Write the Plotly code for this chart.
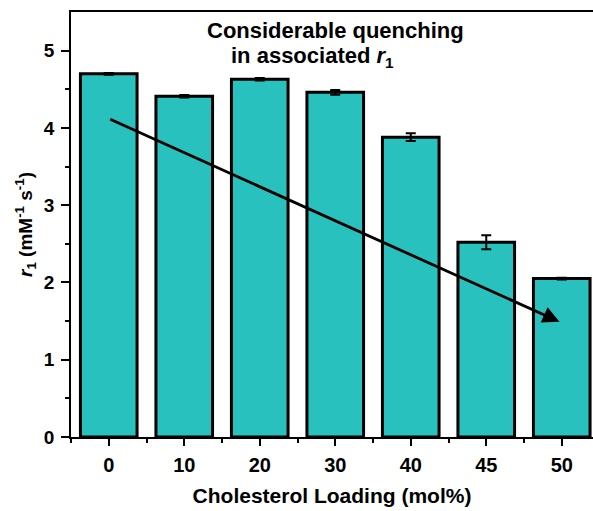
import plotly.graph_objects as go

categories = ["0", "10", "20", "30", "40", "45", "50"]
r1_values = [4.70, 4.41, 4.63, 4.46, 3.88, 2.52, 2.05]
r1_errors = [0.012, 0.015, 0.015, 0.03, 0.05, 0.09, 0.012]
y_ticks = [0, 1, 2, 3, 4, 5]

xpos = list(range(len(categories)))

fig = go.Figure()
fig.add_trace(go.Bar(
    x=xpos, y=r1_values, width=0.75,
    marker=dict(color="#28C1BE", line=dict(color="black", width=3)),
    error_y=dict(type="data", array=r1_errors, color="black", thickness=2, width=5),
))

W, H = 593, 511
L, R, T, B = 71, 0, 12, 74
def px2x(p):
    return (p - 108.3) / 75.57
def py2y(p):
    return (436.7 - p) / 77.2

fig.add_annotation(x=5.97, y=1.49, ax=0, ay=4.12, xref="x", yref="y", axref="x", ayref="y",
                   showarrow=True, arrowhead=2, arrowsize=1.2, arrowwidth=2.8, arrowcolor="black",
                   text="", standoff=0, startstandoff=0)

font_ann = dict(family="Liberation Sans, Arial", size=22, color="black")
fig.add_annotation(x=px2x(205), y=py2y(30.5), xref="x", yref="y", xanchor="left", yanchor="middle",
                   text="<b>Considerable quenching</b>", showarrow=False, font=font_ann)
fig.add_annotation(x=px2x(229), y=py2y(57), xref="x", yref="y", xanchor="left", yanchor="middle",
                   text="<b>in associated <i>r</i><sub>1</sub></b>", showarrow=False, font=font_ann)

fig.update_layout(
    width=W, height=H, margin=dict(l=L, r=R, t=T, b=B),
    plot_bgcolor="white", paper_bgcolor="white", showlegend=False,
    font=dict(family="Liberation Sans, Arial", color="black"),
)
fig.update_xaxes(
    range=[-0.5, px2x(593)], tickmode="array", tickvals=xpos, ticktext=[f"<b>{c}</b>" for c in categories],
    tickfont=dict(size=20), ticks="outside", ticklen=7, tickwidth=1.5, tickcolor="black",
    ticklabelstandoff=2,
    showline=True, linecolor="black", linewidth=1.5, mirror=True, showgrid=False, zeroline=False,
    minor=dict(tickmode="array", tickvals=[-0.5, 0.5, 1.5, 2.5, 3.5, 4.5, 5.5], ticks="outside", ticklen=4, tickwidth=1.5, tickcolor="black"),
    title=dict(text="<b>Cholesterol Loading (mol%)</b>", font=dict(size=21), standoff=14),
)
fig.update_yaxes(
    range=[0, 5.5], tickmode="array", tickvals=y_ticks, ticktext=[f"<b>{v}</b>" for v in y_ticks],
    tickfont=dict(size=19), ticks="outside", ticklen=8, tickwidth=1.5, tickcolor="black",
    ticklabelstandoff=3,
    showline=True, linecolor="black", linewidth=1.5, showgrid=False, zeroline=False,
    minor=dict(tickmode="array", tickvals=[0.5, 1.5, 2.5, 3.5, 4.5], ticks="outside", ticklen=4, tickwidth=1.5, tickcolor="black"),
    title=dict(text="<b><i>r</i><sub>1</sub> (mM<sup>-1</sup> s<sup>-1</sup>)</b>", font=dict(size=19), standoff=6),
)

fig.write_html("out.html")
